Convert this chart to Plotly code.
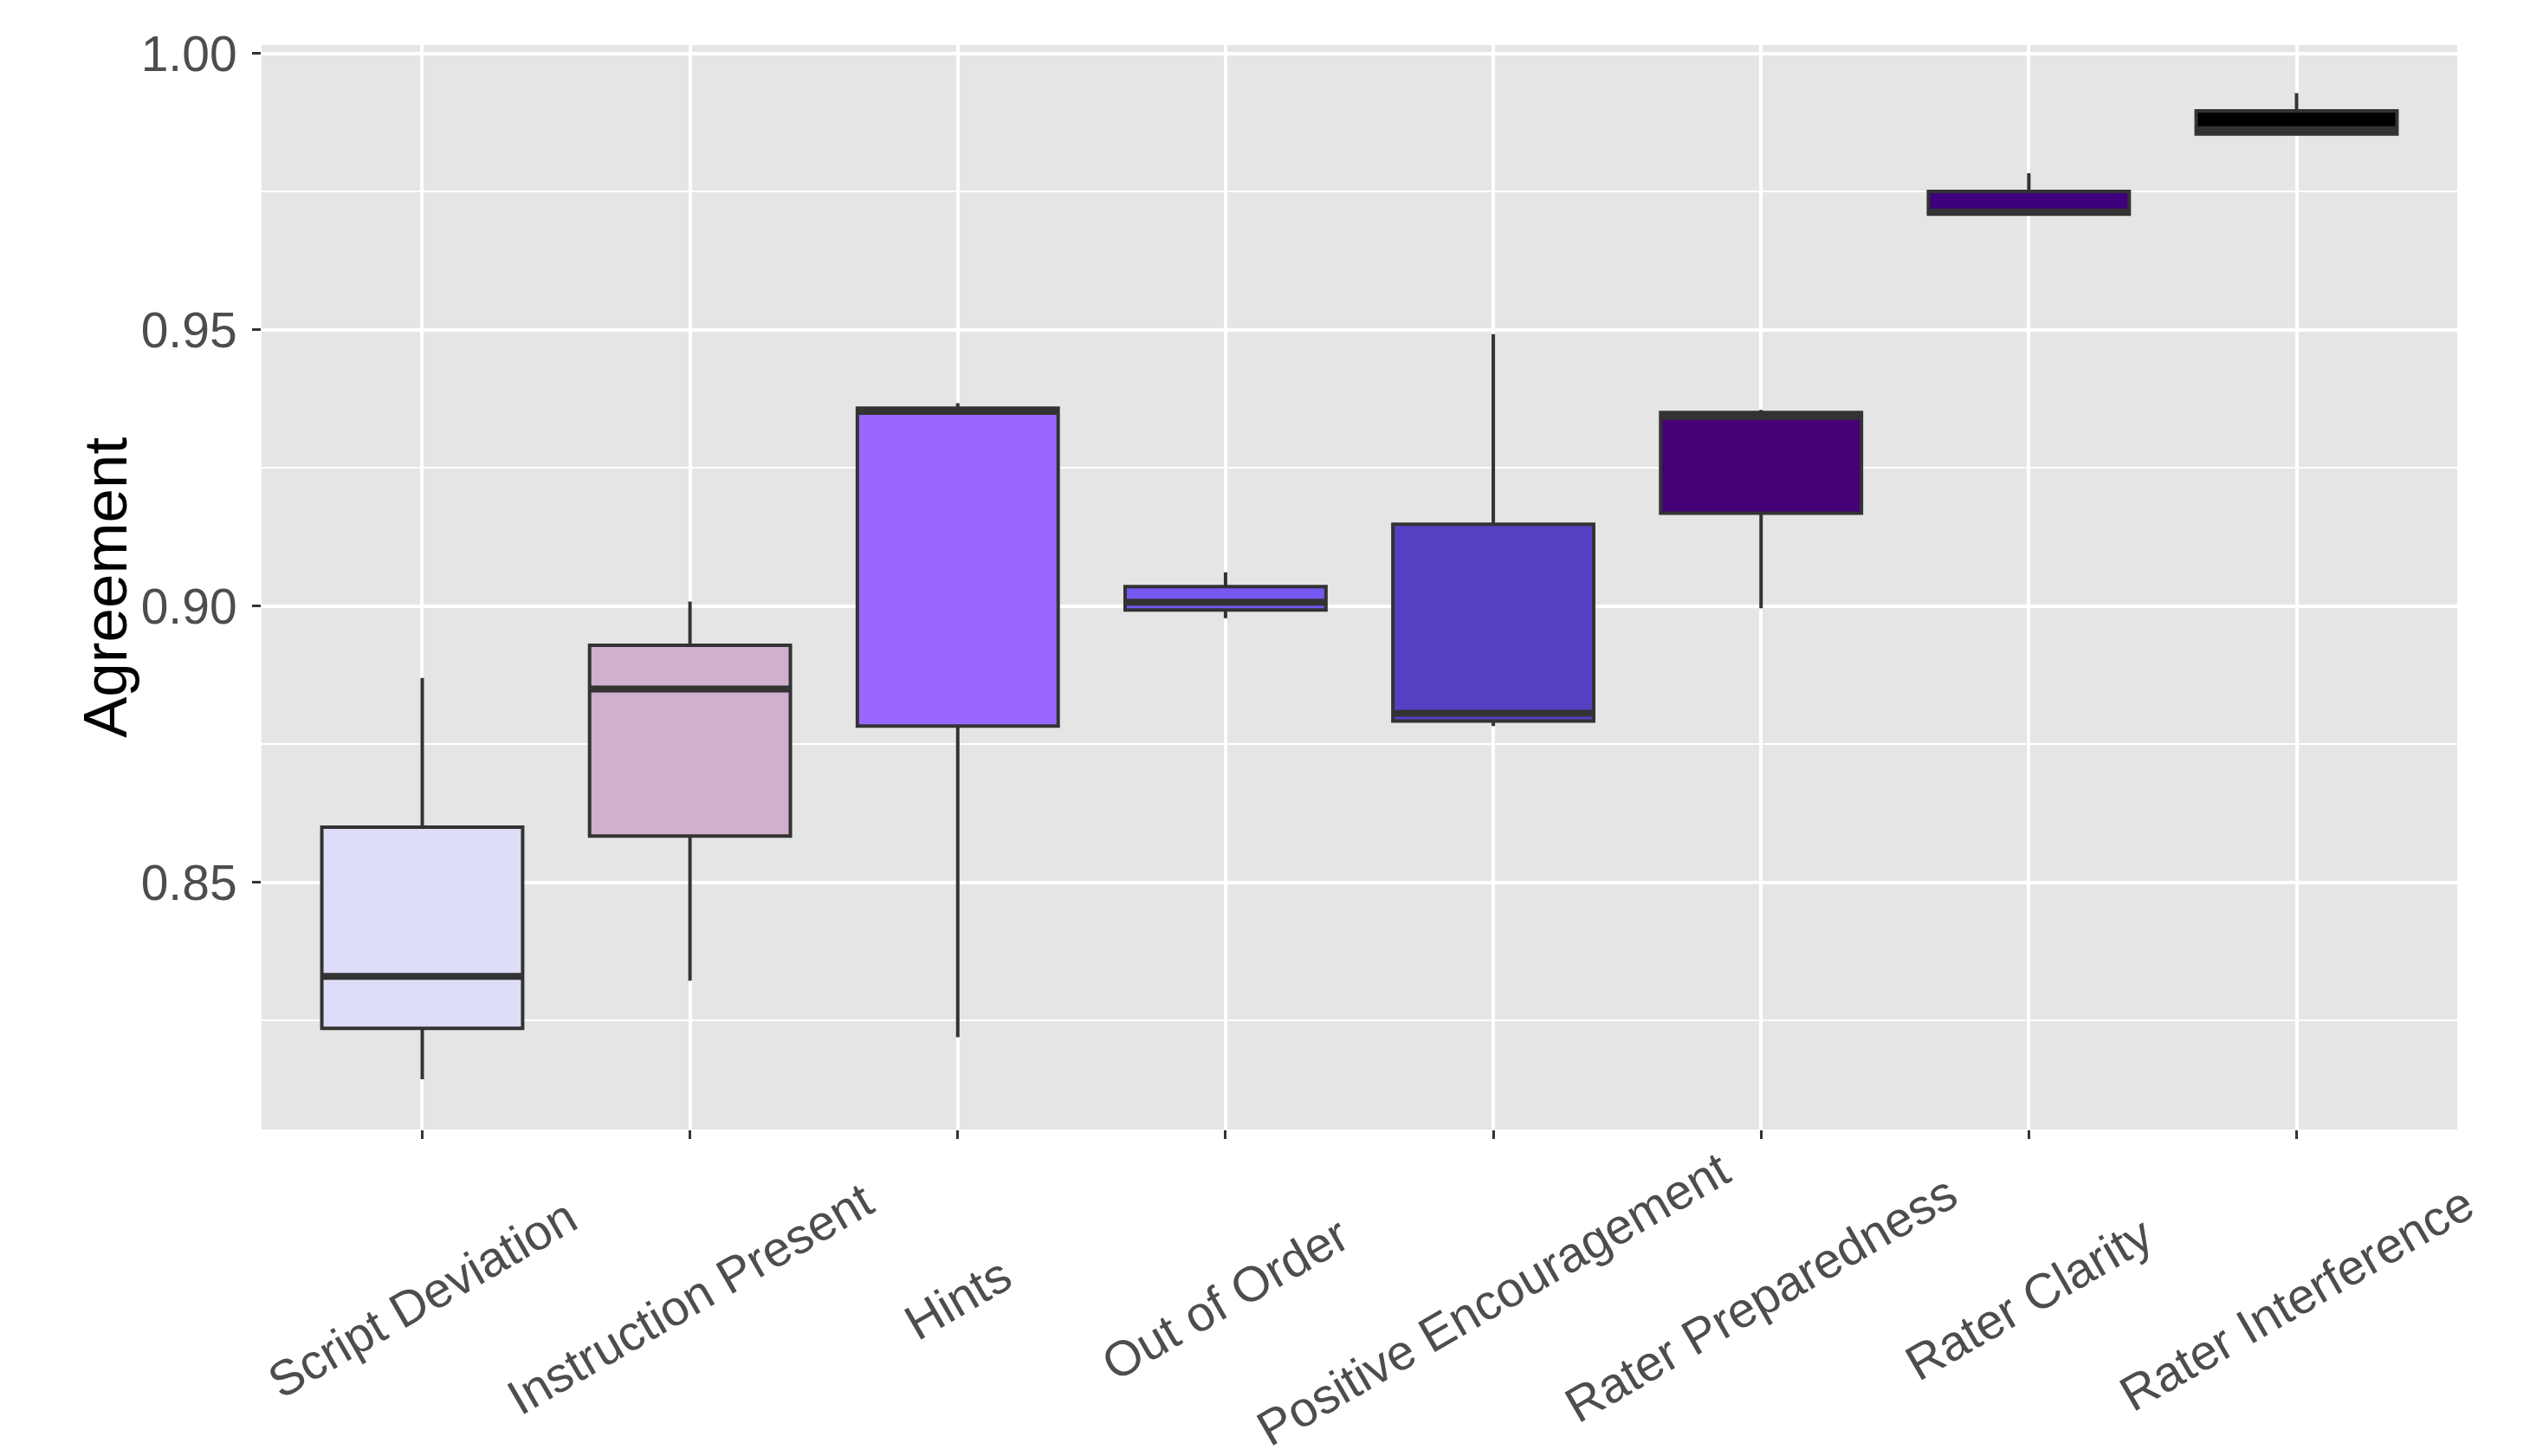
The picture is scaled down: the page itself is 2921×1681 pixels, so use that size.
import plotly.graph_objects as go

categories = ["Script Deviation", "Instruction Present", "Hints", "Out of Order",
              "Positive Encouragement", "Rater Preparedness", "Rater Clarity", "Rater Interference"]
lower = [0.8144, 0.8322, 0.8220, 0.8978, 0.8783, 0.8996, 0.9709, 0.9854]
q1 = [0.8236, 0.8584, 0.8783, 0.8993, 0.8792, 0.9168, 0.9709, 0.9854]
median = [0.8330, 0.8850, 0.9352, 0.9007, 0.8806, 0.9343, 0.9713, 0.9862]
q3 = [0.8600, 0.8929, 0.9358, 0.9035, 0.9148, 0.9350, 0.9750, 0.9896]
upper = [0.8870, 0.9008, 0.9367, 0.9061, 0.9492, 0.9355, 0.9783, 0.9928]
fills = ["#DDDDF8", "#CFB0CF", "#9966FF", "#7657F2", "#5540C2", "#440077", "#3F007D", "#000000"]
y_ticks = [0.85, 0.90, 0.95, 1.00]

BOX_W = 0.75
OUT = "#333333"
FONT = "Liberation Sans, Arial, Helvetica, sans-serif"

fig = go.Figure()
for i, cat in enumerate(categories):
    fig.add_trace(go.Box(
        x=[i], q1=[q1[i]], median=[median[i]], q3=[q3[i]],
        lowerfence=[lower[i]], upperfence=[upper[i]],
        width=BOX_W, whiskerwidth=0, boxpoints=False,
        fillcolor=fills[i], line=dict(color=OUT, width=4),
        name=cat, showlegend=False,
    ))
    fig.add_trace(go.Scatter(
        x=[i - BOX_W / 2, i + BOX_W / 2], y=[median[i], median[i]],
        mode="lines", line=dict(color=OUT, width=8),
        showlegend=False, hoverinfo="skip",
    ))

for i, cat in enumerate(categories):
    fig.add_annotation(
        x=i, y=-0.156, xref="x", yref="paper", text=cat, textangle=-30,
        showarrow=False, xanchor="center", yanchor="middle",
        font=dict(size=57, color="#4D4D4D", family=FONT),
    )

fig.add_annotation(
    x=-0.0714, y=0.5, xref="paper", yref="paper", text="Agreement", textangle=-90,
    showarrow=False, xanchor="center", yanchor="middle",
    font=dict(size=71, color="#000000", family=FONT),
)

fig.update_layout(
    width=2905, height=1665,
    margin=dict(l=294, r=76, t=44, b=369),
    paper_bgcolor="white", plot_bgcolor="#E5E5E5",
    boxmode="overlay",
    font=dict(family=FONT),
    xaxis=dict(
        range=[-0.6, len(categories) - 1 + 0.6],
        tickvals=list(range(len(categories))), ticktext=categories,
        showticklabels=False, showgrid=True, gridcolor="white", gridwidth=3.5,
        zeroline=False, ticks="outside", ticklen=10, tickwidth=3, tickcolor=OUT,
        showline=False,
    ),
    yaxis=dict(
        range=[0.8053, 1.0015], tickvals=y_ticks, tickformat=".2f",
        showgrid=True, gridcolor="white", gridwidth=3.5, zeroline=False,
        ticks="outside", ticklen=10, tickwidth=3, tickcolor=OUT,
        tickfont=dict(size=57, color="#4D4D4D"), ticklabelstandoff=6,
        minor=dict(dtick=0.025, tick0=0.0, showgrid=True, gridcolor="white", gridwidth=1.8, ticks=""),
        showline=False,
    ),
)

fig.write_html("out.html")
